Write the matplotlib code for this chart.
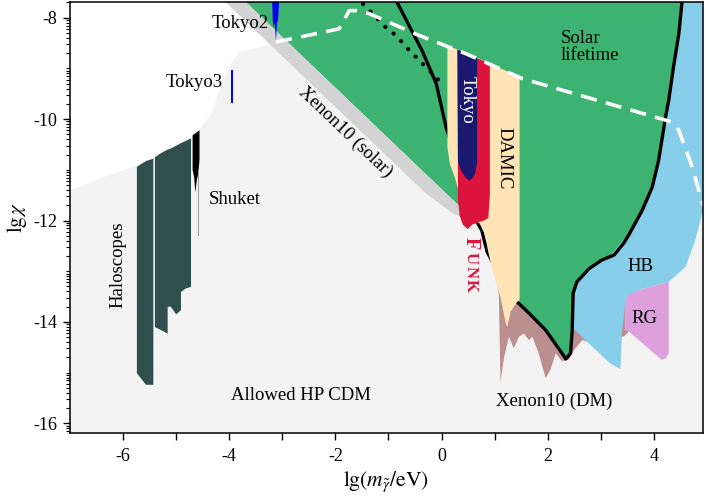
import matplotlib
matplotlib.use('Agg')
import matplotlib.pyplot as plt
import numpy as np
from matplotlib.patches import Polygon

plt.rcParams['font.family'] = ['Liberation Serif', 'DejaVu Serif']
plt.rcParams['mathtext.fontset'] = 'stix'

# ---------------- axes ----------------
x_range = (-7.0, 4.92)
y_range = (-16.185, -7.69)
x_ticks = [-6, -5, -4, -3, -2, -1, 0, 1, 2, 3, 4]
x_tick_labels = ['-6', '', '-4', '', '-2', '', '0', '', '2', '', '4']
y_ticks = [-16, -14, -12, -10, -8]
y_tick_labels = ['-16', '-14', '-12', '-10', '-8']

# ---------------- regions (lg m, lg chi) ----------------
white_x = [-7.1, -6.44, -5.73, -5.41, -4.71, -4.56, -4.31, -4.19, -3.94, -3.81, -3.43, -3.11, -2.9, -7.1]
white_y = [-11.44, -11.17, -10.91, -10.75, -10.36, -10.22, -9.83, -9.43, -8.84, -8.68, -8.58, -8.49, -7.6, -7.6]

band_x = [-4.07, -3.69, 0.68, 0.72, 0.20, -0.30]
band_y = [-7.69, -7.69, -12.06, -12.12, -11.85, -11.46]

green_x = [-3.69, 0.68, 0.76, 0.81, 0.86, 1.00, 1.20, 1.42, 1.65, 1.96, 2.27, 2.34, 2.43, 2.46, 2.48, 2.55,
           2.78, 3.02, 3.25, 3.43, 3.53, 3.78, 3.97, 4.09, 4.15, 4.22, 4.28, 4.37, 4.47, 4.53]
green_y = [-7.69, -12.06, -12.20, -12.42, -12.62, -12.90, -13.30, -13.60, -13.83, -14.16, -14.62, -14.73, -14.62,
           -14.20, -13.43, -13.21, -12.95, -12.78, -12.68, -12.45, -12.28, -11.80, -11.34, -10.81, -10.42, -9.96,
           -9.63, -8.97, -8.32, -7.69]

black_x = [-0.84, -0.55, -0.37, -0.10, 0.085, 0.40, 0.67] + green_x[2:]
black_y = [-7.69, -8.28, -8.64, -9.30, -10.16, -11.20, -12.03] + green_y[2:]

dotted_x = [-1.48, -1.30, -1.05, -0.86, -0.61, -0.46, -0.20, -0.05]
dotted_y = [-7.73, -7.92, -8.19, -8.35, -8.64, -8.80, -9.07, -9.24]

lifetime_x = [-3.12, -1.93, -1.74, -1.61, -1.36, -0.49, 0.46, 1.52, 4.22, 4.34, 4.47, 4.72, 4.88, 4.96]
lifetime_y = [-8.48, -8.22, -7.86, -7.86, -7.92, -8.32, -8.71, -9.20, -10.02, -10.06, -10.22, -10.94, -11.53, -11.80]

hb_x = [4.95, 4.53, 4.47, 4.37, 4.28, 4.22, 4.15, 4.09, 3.97, 3.78, 3.53, 3.15, 2.83, 2.59, 2.49, 2.47,
        2.84, 3.18, 3.37, 3.40, 3.47, 3.72, 4.28, 4.60, 4.78, 4.91, 4.95]
hb_y = [-7.6, -7.6, -8.32, -8.97, -9.63, -9.96, -10.42, -10.81, -11.34, -11.80, -12.26, -12.72, -12.95, -13.18,
        -13.31, -14.12, -14.49, -14.82, -14.93, -14.20, -13.57, -13.37, -13.21, -12.91, -12.39, -11.86, -11.75]

rg_x = [3.47, 3.55, 3.72, 4.28, 4.28, 4.22, 4.15, 3.53, 3.45, 3.45]
rg_y = [-13.55, -13.45, -13.37, -13.21, -14.62, -14.72, -14.75, -14.19, -14.16, -13.70]

xdm_x = [1.05, 1.08, 1.11, 1.18, 1.27, 1.36, 1.46, 1.55, 1.65, 1.71, 1.83, 1.96, 2.05, 2.15, 2.27, 2.40,
         2.50, 2.65, 2.84, 3.00, 3.20, 3.38, 3.45, 3.52, 3.52]
xdm_y = [-13.30, -13.47, -15.18, -14.69, -14.29, -14.52, -14.29, -14.23, -14.36, -14.29, -14.62, -15.11,
         -14.95, -14.62, -14.78, -14.74, -14.55, -14.36, -14.42, -14.40, -14.35, -14.30, -14.28, -14.20, -13.20]

damic_x = [0.11, 0.46, 1.00, 1.47, 1.47, 1.43, 1.36, 1.30, 1.24, 1.21, 1.11, 1.05, 0.96, 0.88, 0.85, 0.80,
           0.72, 0.55, 0.30, 0.25, 0.16, 0.11]
damic_y = [-8.55, -8.69, -8.95, -9.16, -13.58, -13.60, -13.70, -13.80, -14.10, -14.03, -13.51, -13.31, -12.98,
           -12.62, -12.45, -12.24, -12.06, -11.95, -11.34, -11.15, -10.90, -10.55]

funk_x = [0.30, 0.91, 0.91, 0.88, 0.80, 0.70, 0.58, 0.49, 0.40, 0.34, 0.31]
funk_y = [-8.63, -8.91, -11.50, -11.95, -12.00, -12.03, -12.08, -12.17, -12.08, -11.90, -11.60]

tokyo_x = [0.30, 0.67, 0.67, 0.64, 0.58, 0.52, 0.45, 0.36, 0.31]
tokyo_y = [-8.63, -8.80, -10.85, -11.05, -11.17, -11.21, -11.15, -11.00, -10.85]

tokyo2_x = [-3.19, -3.18, -3.16, -3.14, -3.13, -3.12, -3.11, -3.10, -3.08, -3.06]
tokyo2_y = [-7.69, -8.05, -8.20, -8.10, -8.30, -8.45, -8.30, -8.10, -8.05, -7.69]

tokyo3_x = [-3.97, -3.93, -3.93, -3.96]
tokyo3_y = [-9.04, -9.04, -9.69, -9.69]

halo1_x = [-5.74, -5.74, -5.57, -5.43, -5.43, -5.55, -5.62, -5.74]
halo1_y = [-10.94, -15.01, -15.24, -15.24, -10.78, -10.82, -10.86, -10.94]
halo2_x = [-5.40, -5.40, -5.16, -5.16, -5.10, -5.00, -4.91, -4.91, -4.82, -4.72, -4.72, -4.90, -5.10, -5.16, -5.30]
halo2_y = [-10.75, -14.10, -14.23, -13.70, -13.70, -13.85, -13.77, -13.41, -13.34, -13.31, -10.38, -10.47,
           -10.58, -10.60, -10.68]

shuket_x = [-4.69, -4.56, -4.56, -4.58, -4.61, -4.64, -4.66, -4.69]
shuket_y = [-10.32, -10.22, -10.80, -11.05, -11.20, -11.45, -11.15, -11.00]
shuket_tail_x = [-4.58, -4.58]
shuket_tail_y = [-11.0, -12.29]

# small-caps "Funk" label, letter by letter
funk_letters = ['F', 'U', 'N', 'K']
funk_letter_y = [-12.45, -12.73, -13.01, -13.28]
funk_letter_size = [14.5, 12, 12, 12]

# ---------------- figure ----------------
fig = plt.figure(figsize=(7.06, 5.04), dpi=100)
ax = fig.add_axes([70 / 706, 1 - 432.7 / 504, 632.7 / 706, 430.7 / 504])
ax.set_facecolor('#f3f3f3')


def poly(xs, ys, color, z):
    ax.add_patch(Polygon(np.column_stack([xs, ys]), closed=True, facecolor=color,
                         edgecolor='none', zorder=z))


poly(white_x, white_y, 'white', 1)
poly(xdm_x, xdm_y, '#bc8f8f', 2)
poly(green_x + [4.53], green_y + [-7.6], '#3cb371', 3)
poly(hb_x, hb_y, '#87ceeb', 3)
poly(rg_x, rg_y, '#dda0dd', 4)
poly(band_x, band_y, '#d3d3d3', 4)
ax.plot(black_x, black_y, color='black', lw=2.4, zorder=5, solid_capstyle='round', solid_joinstyle='round')
poly(damic_x, damic_y, '#ffe4b5', 6)
poly(funk_x, funk_y, '#dc143c', 7)
poly(tokyo_x, tokyo_y, '#191970', 8)
ax.plot(dotted_x, dotted_y, color='black', lw=3.0, linestyle=(0, (0.05, 2.5)),
        dash_capstyle='round', zorder=9)
ax.plot(lifetime_x, lifetime_y, color='white', lw=2.6, linestyle=(0, (4.5, 2.6)), zorder=9)
poly(tokyo2_x, tokyo2_y, '#0000ff', 9)
poly(tokyo3_x, tokyo3_y, '#0000ff', 9)
poly(halo1_x, halo1_y, '#2f4f4f', 9)
poly(halo2_x, halo2_y, '#2f4f4f', 9)
poly(shuket_x, shuket_y, 'black', 9)
ax.plot(shuket_tail_x, shuket_tail_y, color='#999999', lw=0.7, zorder=9)

# ---------------- labels ----------------
fs = 13.5
ax.text(-3.25, -8.11, 'Tokyo2', ha='right', va='center', fontsize=fs, zorder=10)
ax.text(-4.66, -9.27, 'Tokyo3', ha='center', va='center', fontsize=fs, zorder=10)
ax.text(-1.81, -10.26, 'Xenon10 (solar)', ha='center', va='center', rotation=-43.7,
        rotation_mode='anchor', fontsize=fs, zorder=10)
ax.text(2.24, -8.58, 'Solar\nlifetime', ha='left', va='center', fontsize=fs, linespacing=1.0, zorder=10)
ax.text(0.485, -9.63, 'Tokyo', ha='center', va='center', rotation=-90, color='white', fontsize=fs, zorder=10)
ax.text(1.18, -10.77, 'DAMIC', ha='center', va='center', rotation=-90, fontsize=fs, zorder=10)
for letter, ly, lsz in zip(funk_letters, funk_letter_y, funk_letter_size):
    ax.text(0.545, ly, letter, ha='center', va='center', rotation=-90, color='#dc143c',
            fontsize=lsz, fontweight='bold', zorder=10)
ax.text(-3.89, -11.59, 'Shuket', ha='center', va='center', fontsize=fs, zorder=10)
ax.text(-6.09, -12.88, 'Haloscopes', ha='center', va='center', rotation=90, fontsize=fs, zorder=10)
ax.text(3.75, -12.91, 'HB', ha='center', va='center', fontsize=fs, zorder=10)
ax.text(3.83, -13.93, 'RG', ha='center', va='center', fontsize=fs, zorder=10)
ax.text(2.13, -15.57, 'Xenon10 (DM)', ha='center', va='center', fontsize=fs, zorder=10)
ax.text(-2.64, -15.46, 'Allowed HP CDM', ha='center', va='center', fontsize=fs, zorder=10)

# ---------------- axes cosmetics ----------------
ax.set_xlim(*x_range)
ax.set_ylim(*y_range)
ax.set_xticks(x_ticks)
ax.set_xticklabels(x_tick_labels)
ax.set_yticks(y_ticks)
ax.set_yticklabels(y_tick_labels)
y_minor = [n + np.log10(k) for n in range(-17, -7) for k in range(1, 10)]
y_minor = [v for v in y_minor if y_range[0] <= v <= y_range[1] and round(v, 6) not in y_ticks]
ax.set_yticks(y_minor, minor=True)
ax.tick_params(axis='both', which='major', direction='out', length=5, width=1, labelsize=13)
ax.tick_params(axis='x', which='major', pad=6)
ax.tick_params(axis='y', which='major', pad=4)
ax.tick_params(axis='both', which='minor', direction='out', length=3, width=0.8)
for s in ax.spines.values():
    s.set_linewidth(1.1)
    s.set_zorder(20)
ax.set_xlabel(r'$\mathrm{lg}(m_{\tilde{\gamma}}/\mathrm{eV})$', fontsize=15.5, labelpad=3)
ax.set_ylabel(r'$\mathrm{lg}\,\chi$', fontsize=15, labelpad=3)

fig.savefig('out.png', dpi=100)
